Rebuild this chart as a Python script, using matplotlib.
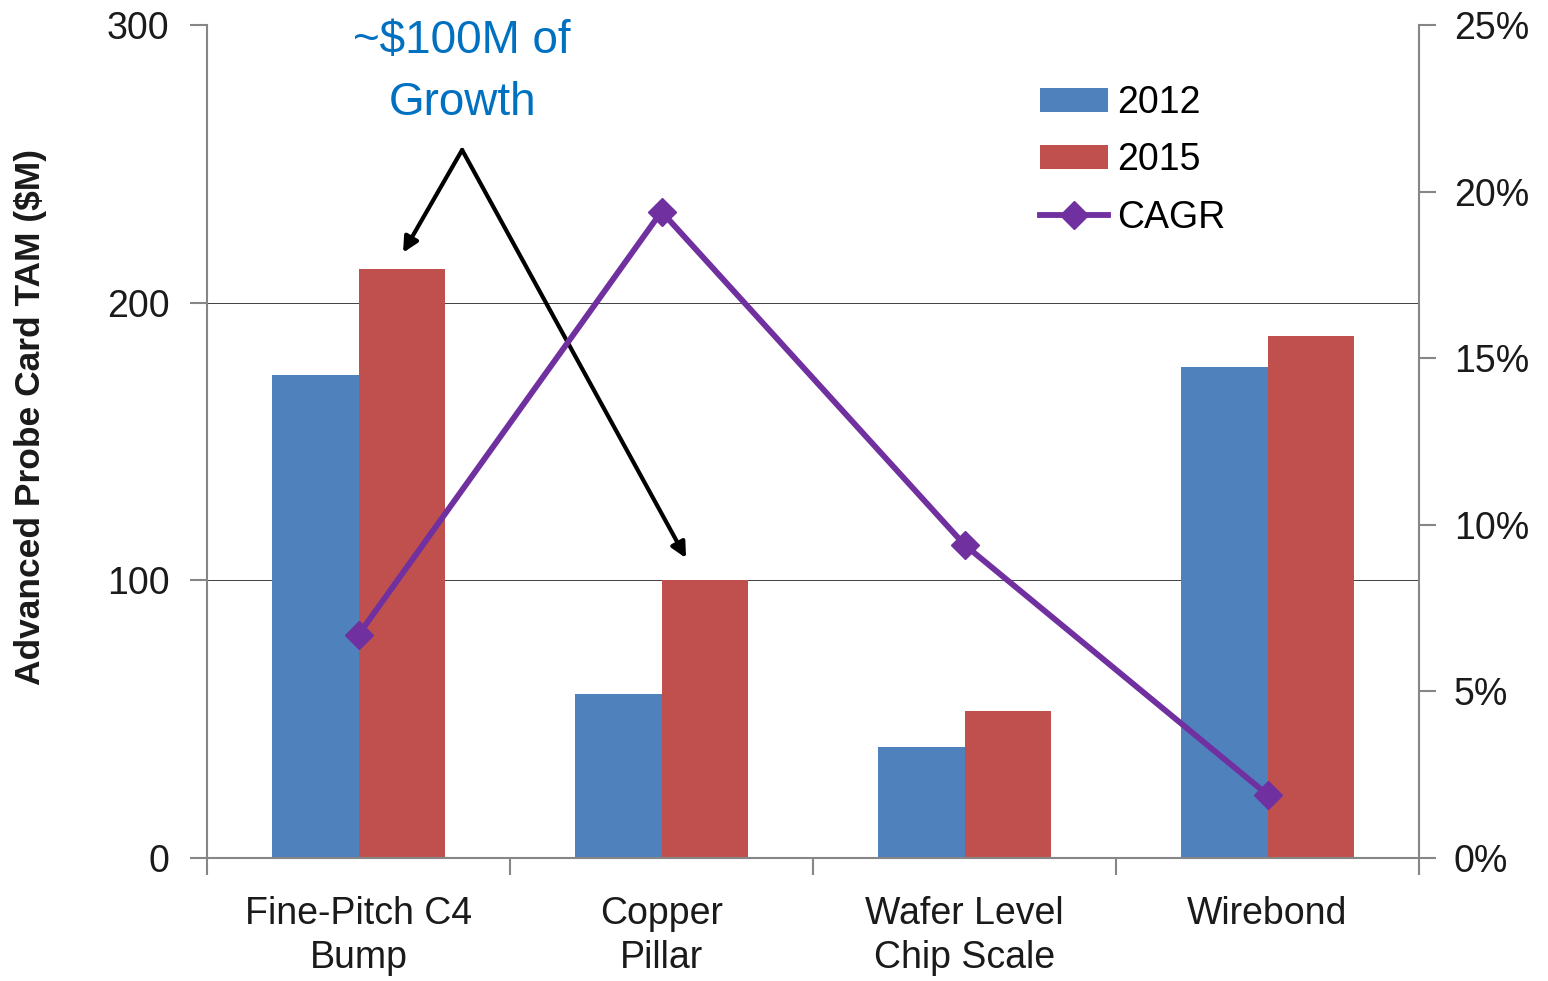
import matplotlib
matplotlib.use("Agg")
import matplotlib.pyplot as plt
from matplotlib import font_manager
import numpy as np

categories = ["Fine-Pitch C4\nBump", "Copper\nPillar", "Wafer Level\nChip Scale", "Wirebond"]
tam_2012 = [174, 59, 40, 177]
tam_2015 = [212, 100, 53, 188]
cagr = [6.7, 19.4, 9.4, 1.9]  # percent
left_ticks = [0, 100, 200, 300]
right_ticks = [0, 5, 10, 15, 20, 25]

names = {f.name for f in font_manager.fontManager.ttflist}
fam = "Liberation Sans Narrow" if "Liberation Sans Narrow" in names else "Liberation Sans"
plt.rcParams["font.family"] = [fam, "DejaVu Sans"]

BLUE = "#4F81BD"
RED = "#C0504D"
PURPLE = "#7030A0"
AXC = "#868686"
TXT = "#1a1a1a"

fig = plt.figure(figsize=(15.48, 9.81), dpi=100)
ax = fig.add_axes([207/1548, 1-858/981, (1419-207)/1548, (858-25)/981])
x = np.arange(len(categories))
w = 0.285
ax.bar(x - w/2, tam_2012, w, color=BLUE, label="2012", zorder=2)
ax.bar(x + w/2, tam_2015, w, color=RED, label="2015", zorder=2)
ax.set_xlim(-0.5, len(categories) - 0.5)
ax.set_ylim(0, 300)
ax.set_yticks(left_ticks)
ax.set_yticklabels([str(t) for t in left_ticks])
for g in (100, 200):
    ax.axhline(g, color="#404040", lw=0.7, zorder=1)

ax.set_xticks(x)
ax.set_xticklabels(categories)
for lab in ax.get_xticklabels():
    lab.set_linespacing(1.3)
ax.set_xticks(np.arange(len(categories) + 1) - 0.5, minor=True)
ax.tick_params(axis="x", which="major", length=0, pad=27, labelsize=27, labelcolor=TXT)
ax.tick_params(axis="x", which="minor", length=12, width=1.5, color=AXC, direction="out")
ax.tick_params(axis="y", length=12, width=1.5, color=AXC, direction="out", pad=15,
               labelsize=27, labelcolor=TXT)
for s in ("top", "right"):
    ax.spines[s].set_visible(False)
for s in ("left", "bottom"):
    ax.spines[s].set_color(AXC)
    ax.spines[s].set_linewidth(1.5)
ax.set_ylabel("Advanced Probe Card TAM ($M)", fontsize=25.5, fontweight="bold",
              color=TXT)
ax.yaxis.set_label_coords(-0.132, 0.529)

ax2 = ax.twinx()
ax2.plot(x, cagr, color=PURPLE, lw=4.2, marker="D", markersize=14, label="CAGR", zorder=3)
ax2.set_ylim(0, 25)
ax2.set_yticks(right_ticks)
ax2.set_yticklabels([f"{t}%" for t in right_ticks])
ax2.tick_params(axis="y", length=12, width=1.5, color=AXC, direction="out", pad=13,
                labelsize=27, labelcolor=TXT)
for s in ("top", "left", "bottom"):
    ax2.spines[s].set_visible(False)
ax2.spines["right"].set_color(AXC)
ax2.spines["right"].set_linewidth(1.5)

h1, l1 = ax.get_legend_handles_labels()
h2, l2 = ax2.get_legend_handles_labels()
ax2.legend(h1 + h2, l1 + l2, loc="upper left", bbox_to_anchor=(1040/1548, 1-85/981),
           bbox_transform=fig.transFigure, frameon=False, fontsize=27,
           handlelength=1.8, handleheight=0.6, handletextpad=0.25, labelspacing=0.57,
           borderaxespad=0, borderpad=0)

ax.text(0.342, 283, "~$100M of\nGrowth", ha="center", va="center", fontsize=33,
        color="#0070C0", linespacing=1.52)
start = (0.342, 255)
ax.annotate("", xy=(0.147, 218), xytext=start,
            arrowprops=dict(arrowstyle="-|>,head_length=0.9,head_width=0.45", color="black",
                            lw=3, shrinkA=0, shrinkB=0), zorder=5)
ax.annotate("", xy=(1.081, 108), xytext=start,
            arrowprops=dict(arrowstyle="-|>,head_length=0.9,head_width=0.45", color="black",
                            lw=3, shrinkA=0, shrinkB=0), zorder=5)

fig.savefig("out.png", dpi=100)
